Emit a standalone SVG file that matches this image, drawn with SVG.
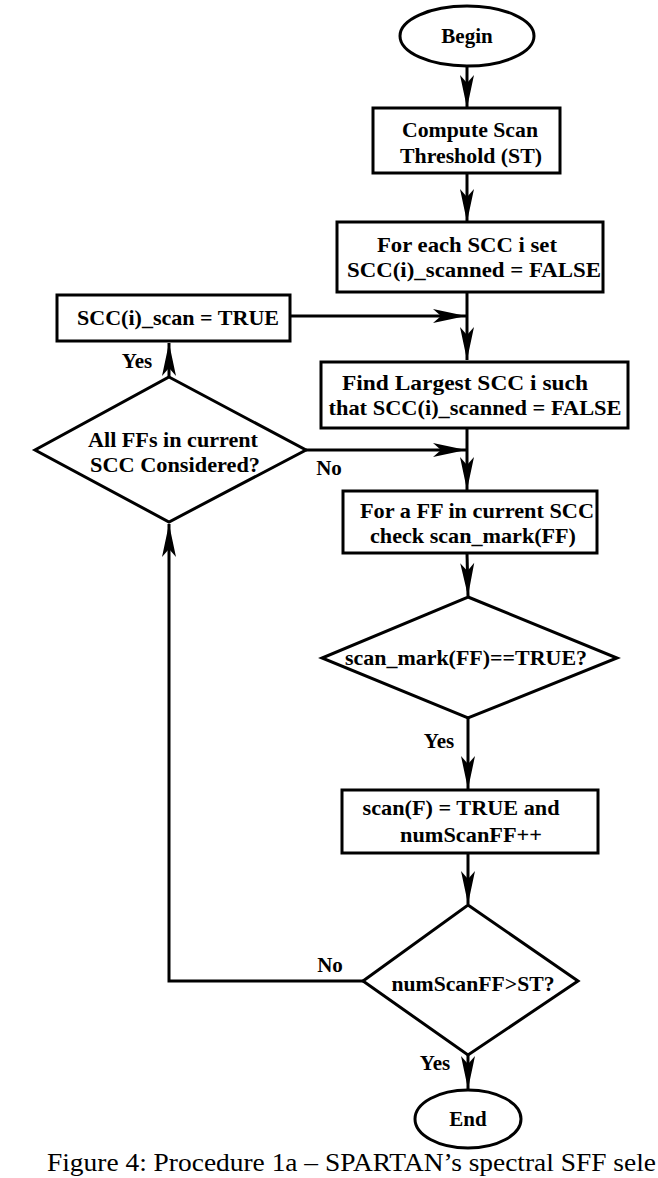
<svg xmlns="http://www.w3.org/2000/svg" width="658" height="1178" viewBox="0 0 658 1178">
<style>
.n{fill:#fff;stroke:#000;stroke-width:3}
.t{font-family:"Liberation Serif","Times New Roman",serif;font-weight:bold;font-size:21px;fill:#000;text-anchor:middle}
.c{fill:none;stroke:#000;stroke-width:3}
.cap{font-family:"Liberation Serif","Times New Roman",serif;font-size:25px;fill:#000}
</style>
<defs>
<marker id="ah" markerUnits="userSpaceOnUse" markerWidth="40" markerHeight="20" viewBox="-34 -10 36 20" refX="0" refY="0" orient="auto" overflow="visible">
<path d="M0,0 L-33,-7 L-25,0 L-33,7 Z" fill="#000"/>
</marker>
</defs>
<rect width="658" height="1178" fill="#fff"/>
<g id="connectors">
<line class="c" x1="467" y1="66" x2="467" y2="108" marker-end="url(#ah)"/>
<line class="c" x1="467" y1="173" x2="467" y2="222" marker-end="url(#ah)"/>
<line class="c" x1="467" y1="292" x2="467" y2="360" marker-end="url(#ah)"/>
<line class="c" x1="290" y1="316" x2="466" y2="316" marker-end="url(#ah)"/>
<line class="c" x1="467" y1="428" x2="467" y2="490" marker-end="url(#ah)"/>
<line class="c" x1="306" y1="450" x2="466" y2="450" marker-end="url(#ah)"/>
<line class="c" x1="467" y1="553" x2="468" y2="596" marker-end="url(#ah)"/>
<line class="c" x1="468" y1="718" x2="468" y2="789" marker-end="url(#ah)"/>
<line class="c" x1="468" y1="853" x2="468" y2="904" marker-end="url(#ah)"/>
<polyline class="c" points="363,981 169,981 169,524" marker-end="url(#ah)"/>
<line class="c" x1="169" y1="377" x2="169" y2="343" marker-end="url(#ah)"/>
<line class="c" x1="468" y1="1055" x2="468" y2="1089" marker-end="url(#ah)"/>
<text class="t" x="137" y="368">Yes</text>
<text class="t" x="329" y="475">No</text>
<text class="t" x="439" y="748">Yes</text>
<text class="t" x="330" y="972">No</text>
<text class="t" x="435" y="1070">Yes</text>
</g>
<g id="begin">
<ellipse class="n" cx="467" cy="36" rx="67" ry="30"/>
<text class="t" x="467" y="43">Begin</text>
</g>
<g id="compute">
<rect class="n" x="373" y="108" width="187" height="65"/>
<text class="t" x="470" y="137" textLength="136" lengthAdjust="spacingAndGlyphs">Compute Scan</text>
<text class="t" x="471" y="163" textLength="142" lengthAdjust="spacingAndGlyphs">Threshold (ST)</text>
</g>
<g id="init">
<rect class="n" x="337" y="222" width="266" height="70"/>
<text class="t" x="467" y="252" textLength="180" lengthAdjust="spacingAndGlyphs">For each SCC i set</text>
<text class="t" x="474" y="277" textLength="254" lengthAdjust="spacingAndGlyphs">SCC(i)_scanned = FALSE</text>
</g>
<g id="setscan">
<rect class="n" x="57" y="295" width="233" height="46"/>
<text class="t" x="178" y="325" textLength="202" lengthAdjust="spacingAndGlyphs">SCC(i)_scan = TRUE</text>
</g>
<g id="findlargest">
<rect class="n" x="321" y="362" width="307" height="66"/>
<text class="t" x="465" y="390" textLength="246" lengthAdjust="spacingAndGlyphs">Find Largest SCC i such</text>
<text class="t" x="475" y="415" textLength="293" lengthAdjust="spacingAndGlyphs">that SCC(i)_scanned = FALSE</text>
</g>
<g id="allffs">
<polygon class="n" points="169,377 306,450 169,522 35,450"/>
<text class="t" x="173" y="447" textLength="170" lengthAdjust="spacingAndGlyphs">All FFs in current</text>
<text class="t" x="175" y="472" textLength="170" lengthAdjust="spacingAndGlyphs">SCC Considered?</text>
</g>
<g id="forff">
<rect class="n" x="343" y="491" width="254" height="62"/>
<text class="t" x="477" y="518" textLength="234" lengthAdjust="spacingAndGlyphs">For a FF in current SCC</text>
<text class="t" x="473" y="543" textLength="206" lengthAdjust="spacingAndGlyphs">check scan_mark(FF)</text>
</g>
<g id="scanmark">
<polygon class="n" points="468,597 617,658 468,718 322,658"/>
<text class="t" x="466" y="665" textLength="242" lengthAdjust="spacingAndGlyphs">scan_mark(FF)==TRUE?</text>
</g>
<g id="setscanf">
<rect class="n" x="342" y="790" width="256" height="63"/>
<text class="t" x="461" y="815" textLength="197" lengthAdjust="spacingAndGlyphs">scan(F) = TRUE and</text>
<text class="t" x="471" y="842" textLength="142" lengthAdjust="spacingAndGlyphs">numScanFF++</text>
</g>
<g id="threshold">
<polygon class="n" points="468,905 578,981 468,1055 363,981"/>
<text class="t" x="473" y="991" textLength="163" lengthAdjust="spacingAndGlyphs">numScanFF&gt;ST?</text>
</g>
<g id="end">
<ellipse class="n" cx="468" cy="1119" rx="53" ry="29"/>
<text class="t" x="468" y="1126">End</text>
</g>
<text class="cap" x="47" y="1171" textLength="609" lengthAdjust="spacingAndGlyphs">Figure 4: Procedure 1a – SPARTAN’s spectral SFF sele</text>
</svg>
